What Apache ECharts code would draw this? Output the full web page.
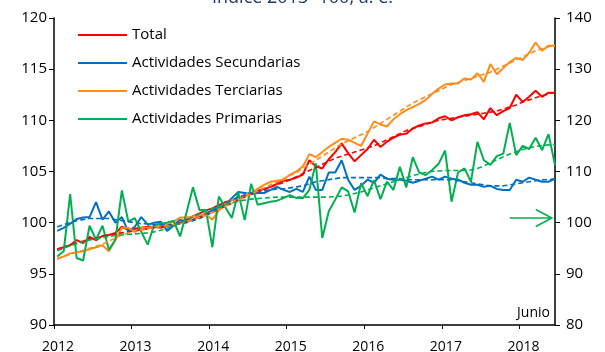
<!DOCTYPE html>
<html>
<head>
<meta charset="utf-8">
<script src="https://cdn.jsdelivr.net/npm/echarts@6/dist/echarts.min.js"></script>
<style>
  html, body { margin: 0; padding: 0; background: #ffffff; }
  #chart { width: 605px; height: 352px; }
</style>
</head>
<body>
<div id="chart"></div>
<script>
// Monthly series, January 2012 to June 2018 (index 2013 = 100, seasonally adjusted)
const firstYear = 2012;
const leftTicks = [90, 95, 100, 105, 110, 115, 120];
const rightTicks = [80, 90, 100, 110, 120, 130, 140];

const total = [
  97.4, 97.6, 97.8, 98.3, 98.0, 98.6, 98.3, 98.7, 98.8, 99.0, 99.6, 99.3,
  99.4, 99.5, 99.6, 99.6, 99.5, 99.7, 99.8, 100.0, 100.3, 100.6, 100.9, 101.2,
  101.4, 101.7, 102.0, 102.2, 102.4, 102.7, 102.9, 103.1, 103.3, 103.5, 103.8, 104.1,
  104.2, 104.4, 104.7, 106.1, 105.5, 105.3, 106.2, 106.9, 107.75, 106.8, 106.0, 106.6,
  107.2, 108.1, 107.4, 107.9, 108.3, 108.6, 108.7, 109.2, 109.5, 109.7, 109.8, 110.2,
  110.4, 110.0, 110.3, 110.5, 110.6, 110.8, 110.1, 111.2, 110.5, 110.9, 111.2, 112.5,
  111.8, 112.3, 112.9, 112.3, 112.7, 112.7
];
const totalTrend = [
  97.4, 97.6, 97.8, 98.0, 98.2, 98.4, 98.5, 98.7, 98.8, 98.9, 99.0, 99.1,
  99.2, 99.3, 99.4, 99.5, 99.6, 99.7, 99.8, 99.9, 100.1, 100.3, 100.5, 100.8,
  101.0, 101.3, 101.6, 101.9, 102.2, 102.5, 102.8, 103.0, 103.2, 103.5, 103.7, 103.9,
  104.2, 104.5, 104.8, 105.1, 105.4, 105.7, 106.0, 106.3, 106.5, 106.7, 106.9, 107.1,
  107.3, 107.5, 107.8, 108.1, 108.4, 108.7, 109.0, 109.2, 109.4, 109.6, 109.8, 110.0,
  110.1, 110.2, 110.3, 110.4, 110.5, 110.6, 110.7, 110.8, 110.9, 111.1, 111.3, 111.5,
  111.8, 112.0, 112.2, 112.4, 112.6, 112.7
];

const secundarias = [
  99.2, 99.5, 99.9, 100.35, 100.5, 100.55, 102.0, 100.3, 101.1, 100.0, 100.55, 99.1,
  99.6, 100.55, 99.8, 100.0, 100.1, 99.2, 99.7, 100.3, 100.1, 100.3, 100.6, 100.9,
  101.2, 101.5, 101.7, 102.4, 103.0, 102.9, 102.8, 102.9, 102.9, 103.2, 103.5, 103.2,
  103.0, 103.3, 103.0, 104.5, 103.2, 103.2, 104.9, 104.9, 106.1, 104.2, 103.2, 103.6,
  104.2, 103.9, 104.7, 104.3, 104.2, 104.2, 104.1, 103.9, 104.1, 104.3, 104.5, 104.2,
  104.5, 104.3, 104.2, 103.9, 103.7, 103.7, 103.5, 103.6, 103.3, 103.2, 103.2, 104.2,
  104.0, 104.4, 104.2, 104.0, 104.0, 104.3
];
const secundariasTrend = [
  99.6, 99.8, 100.0, 100.2, 100.3, 100.4, 100.4, 100.4, 100.4, 100.3, 100.2, 100.1,
  100.0, 99.9, 99.9, 99.8, 99.8, 99.8, 99.8, 99.9, 100.0, 100.2, 100.4, 100.7,
  101.0, 101.4, 101.8, 102.2, 102.5, 102.7, 102.9, 103.0, 103.1, 103.2, 103.3, 103.3,
  103.4, 103.5, 103.6, 103.8, 104.0, 104.1, 104.2, 104.3, 104.4, 104.4, 104.4, 104.4,
  104.4, 104.4, 104.4, 104.3, 104.3, 104.3, 104.2, 104.2, 104.2, 104.2, 104.2, 104.2,
  104.2, 104.2, 104.1, 104.0, 103.9, 103.8, 103.7, 103.6, 103.6, 103.6, 103.7, 103.8,
  103.9, 104.0, 104.1, 104.2, 104.2, 104.3
];

const terciarias = [
  96.45, 96.7, 97.0, 97.1, 97.2, 97.4, 97.6, 97.8, 97.2, 98.3, 99.5, 99.5,
  99.1, 99.5, 99.5, 99.6, 99.7, 99.8, 100.1, 100.5, 100.5, 100.6, 100.7, 100.8,
  100.3, 101.2, 101.8, 102.2, 102.4, 102.7, 102.9, 103.3, 103.7, 104.0, 104.1, 104.2,
  104.7, 105.0, 105.5, 106.7, 106.4, 106.9, 107.4, 107.8, 108.2, 108.1, 107.8, 107.5,
  108.7, 109.9, 109.6, 109.4, 110.1, 110.6, 111.0, 111.3, 111.6, 112.0, 112.6, 113.1,
  113.5, 113.6, 113.6, 114.1, 114.0, 114.6, 113.75, 115.5, 114.5, 115.1, 115.7, 116.1,
  115.9, 116.6, 117.6, 116.8, 117.3, 117.3
];
const terciariasTrend = [
  96.5, 96.7, 96.9, 97.1, 97.3, 97.5, 97.7, 97.9, 98.2, 98.5, 98.8, 99.0,
  99.2, 99.3, 99.4, 99.5, 99.6, 99.7, 99.8, 99.9, 100.1, 100.3, 100.5, 100.7,
  101.0, 101.3, 101.6, 101.9, 102.2, 102.5, 102.8, 103.1, 103.4, 103.7, 104.0, 104.3,
  104.6, 104.9, 105.3, 105.7, 106.1, 106.5, 106.9, 107.3, 107.7, 108.0, 108.3, 108.6,
  108.9, 109.3, 109.7, 110.1, 110.5, 110.9, 111.3, 111.7, 112.0, 112.3, 112.6, 112.9,
  113.2, 113.5, 113.7, 113.9, 114.1, 114.3, 114.5, 114.7, 115.0, 115.3, 115.6, 115.9,
  116.2, 116.5, 116.8, 117.0, 117.2, 117.3
];

// Primary activities use the right-hand axis
const primarias = [
  93.4, 94.4, 105.6, 93.1, 92.6, 99.4, 96.7, 99.4, 94.7, 96.7, 106.3, 100.2,
  100.9, 98.2, 95.7, 99.6, 99.8, 100.0, 100.4, 97.3, 102.0, 106.9, 102.5, 102.5,
  95.2, 105.1, 103.0, 100.9, 105.9, 100.5, 107.6, 103.5, 103.8, 104.1, 104.3, 104.8,
  105.4, 104.8, 104.8, 106.4, 111.6, 97.0, 102.2, 104.5, 106.9, 106.1, 102.0, 107.7,
  105.2, 108.3, 104.6, 108.0, 106.4, 110.9, 106.9, 112.8, 109.8, 109.3, 110.3, 111.5,
  114.1, 104.1, 109.8, 110.6, 108.0, 115.8, 112.2, 111.3, 113.0, 113.5, 119.5, 113.2,
  115.0, 114.4, 116.6, 114.2, 117.3, 111.3
];
const primariasTrend = [
  94.5, 95.0, 95.5, 95.9, 96.3, 96.6, 96.9, 97.1, 97.3, 97.5, 97.6, 97.7,
  97.8, 97.9, 98.0, 98.2, 98.5, 98.9, 99.4, 99.9, 100.5, 101.1, 101.7, 102.3,
  102.8, 103.2, 103.6, 103.9, 104.2, 104.4, 104.6, 104.7, 104.8, 104.9, 105.0, 105.0,
  105.0, 105.0, 105.0, 105.0, 105.0, 105.0, 105.0, 105.1, 105.2, 105.4, 105.7, 106.0,
  106.4, 106.8, 107.2, 107.6, 108.0, 108.4, 108.8, 109.2, 109.5, 109.8, 110.0, 110.1,
  110.2, 110.2, 110.2, 110.2, 110.3, 110.6, 111.1, 111.7, 112.3, 112.9, 113.4, 113.9,
  114.3, 114.6, 114.9, 115.1, 115.2, 115.3
];

// Arrow on the right-hand axis: from month 70 to month 76.5 at level 100.9
const arrowFrom = [70.5, 100.9];
const arrowTo = [77.0, 100.9];

const FONT = 'Open Sans';
const RED = '#ff0000', BLUE = '#0070c0', ORANGE = '#ff8c1a', GREEN = '#00b050';

// each monthly value sits at the middle of its month; year boundaries are whole multiples of 12
const toPoints = arr => arr.map((v, i) => [i + 0.5, v]);
const nMonths = total.length;

function solid(name, data, color, yAxisIndex) {
  return {
    name, type: 'line', yAxisIndex, data: toPoints(data),
    symbol: 'none', smooth: false, z: 2,
    lineStyle: { color, width: 2 }, itemStyle: { color },
    emphasis: { disabled: true }
  };
}
function dashed(name, data, color, yAxisIndex) {
  return {
    name, type: 'line', yAxisIndex, data: toPoints(data),
    symbol: 'none', z: 3,
    lineStyle: { color, width: 1.6, type: [5, 3] }, itemStyle: { color },
    emphasis: { disabled: true }
  };
}

const chart = echarts.init(document.getElementById('chart'), null, { renderer: 'canvas' });

chart.setOption({
  animation: false,
  backgroundColor: '#ffffff',
  grid: { left: 54, right: 50, top: 18, bottom: 27, containLabel: false, outerBoundsMode: 'none' },
  legend: {
    data: ['Total', 'Actividades Secundarias', 'Actividades Terciarias', 'Actividades Primarias'],
    orient: 'vertical',
    left: 78, top: 27, padding: 0,
    icon: 'rect',
    itemWidth: 49, itemHeight: 2, itemGap: 12,
    textStyle: { fontFamily: FONT, fontSize: 15, lineHeight: 16, color: '#000000' },
    selectedMode: false
  },
  xAxis: {
    type: 'value',
    min: 0, max: nMonths - 0.5, interval: 12,
    axisLine: { show: true, onZero: false, lineStyle: { color: '#000000', width: 1.5 } },
    axisTick: { show: true, length: 4, lineStyle: { color: '#000000', width: 1 } },
    splitLine: { show: false },
    axisLabel: {
      showMaxLabel: false,
      margin: 15,
      padding: [0, 0, 0, 8],
      fontFamily: FONT, fontSize: 14, color: '#000000',
      formatter: v => (v % 12 === 0 ? String(firstYear + v / 12) : '')
    }
  },
  yAxis: [
    {
      type: 'value', position: 'left',
      min: leftTicks[0], max: leftTicks[leftTicks.length - 1], interval: 5,
      axisLine: { show: true, lineStyle: { color: '#000000', width: 1.5 } },
      axisTick: { show: true, length: 5, lineStyle: { color: '#000000' } },
      splitLine: { show: false },
      axisLabel: { margin: 7, fontFamily: FONT, fontSize: 15, color: '#000000' }
    },
    {
      type: 'value', position: 'right',
      min: rightTicks[0], max: rightTicks[rightTicks.length - 1], interval: 10,
      axisLine: { show: true, lineStyle: { color: '#000000', width: 1.5 } },
      axisTick: { show: true, length: 5, lineStyle: { color: '#000000' } },
      splitLine: { show: false },
      axisLabel: { margin: 11, fontFamily: FONT, fontSize: 15, color: '#000000' }
    }
  ],
  series: [
    solid('Total', total, RED, 0),
    solid('Actividades Secundarias', secundarias, BLUE, 0),
    solid('Actividades Terciarias', terciarias, ORANGE, 0),
    solid('Actividades Primarias', primarias, GREEN, 1),
    dashed('Total, tendencia', totalTrend, RED, 0),
    dashed('Secundarias, tendencia', secundariasTrend, BLUE, 0),
    dashed('Terciarias, tendencia', terciariasTrend, ORANGE, 0),
    dashed('Primarias, tendencia', primariasTrend, GREEN, 1)
  ]
});

// Title (partly above the canvas top), "Junio" note and the green arrow
const from = chart.convertToPixel({ xAxisIndex: 0, yAxisIndex: 1 }, arrowFrom);
const to = chart.convertToPixel({ xAxisIndex: 0, yAxisIndex: 1 }, arrowTo);
const plotRight = chart.convertToPixel({ xAxisIndex: 0, yAxisIndex: 0 }, [nMonths - 0.5, leftTicks[0]]);

chart.setOption({
  graphic: [
    {
      type: 'text', left: 'center', top: -11,
      style: { text: 'Índice 2013=100, a. e.', font: '18px "Open Sans"', fill: '#1f3864', x: 22 }
    },
    {
      type: 'text',
      style: {
        text: 'Junio', x: plotRight[0] - 5, y: plotRight[1] - 5,
        align: 'right', verticalAlign: 'bottom',
        font: '14px "Open Sans"', fill: '#000000'
      }
    },
    {
      type: 'polyline', silent: true,
      shape: { points: [from, to] },
      style: { stroke: GREEN, lineWidth: 1.6, fill: null }
    },
    {
      type: 'polyline', silent: true,
      shape: { points: [[to[0] - 16, to[1] - 8.5], to, [to[0] - 16, to[1] + 8.5]] },
      style: { stroke: GREEN, lineWidth: 1.6, fill: null }
    }
  ]
});
</script>
</body>
</html>
